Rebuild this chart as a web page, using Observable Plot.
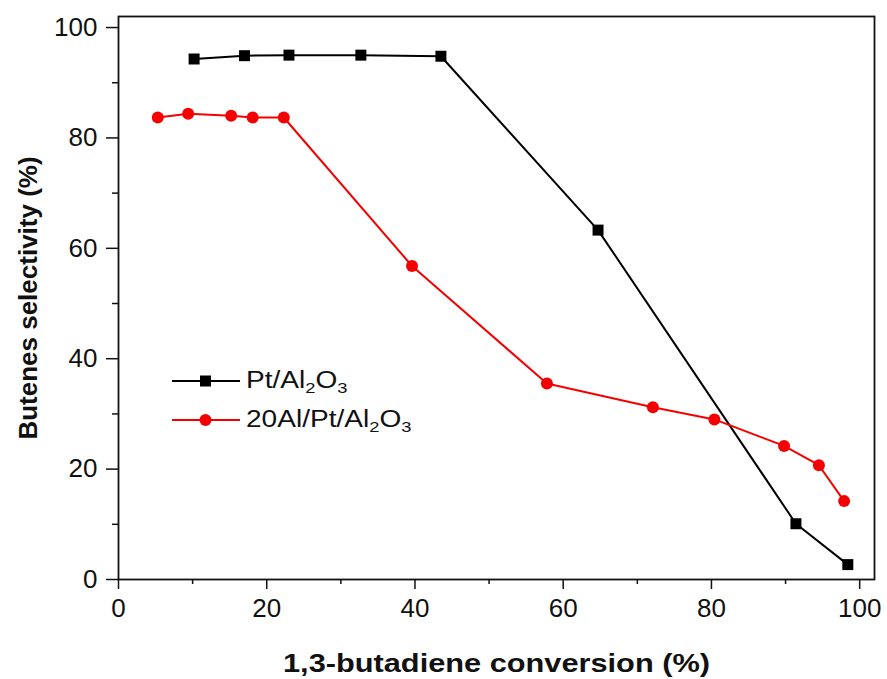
<!DOCTYPE html>
<html>
<head>
<meta charset="utf-8">
<script src="https://cdn.jsdelivr.net/npm/d3@7"></script>
<script src="https://cdn.jsdelivr.net/npm/@observablehq/plot@0.6"></script>
<style>
  html, body { margin: 0; padding: 0; background: #fff; }
  #wrap { position: relative; width: 887px; height: 679px; font-family: "Liberation Sans", Arial, sans-serif; }
  #legend { position: absolute; left: 172px; top: 361px; font-size: 23px; color: #111; }
  .row { display: flex; align-items: center; height: 39px; }
  .row svg { margin-right: 6px; }
  .lbl { display: inline-block; transform: scaleX(1.22); transform-origin: left center; white-space: nowrap; }
  sub { font-size: 15px; vertical-align: -5px; line-height: 0; }
</style>
</head>
<body>
<div id="wrap"></div>
<script>
// Pt/Al2O3 series
const ptX = [10.2, 17.0, 23.0, 32.7, 43.5, 64.7, 91.4, 98.4];
const ptY = [94.3, 94.9, 95.0, 95.0, 94.8, 63.3, 10.1, 2.7];
// 20Al/Pt/Al2O3 series
const alX = [5.3, 9.4, 15.2, 18.1, 22.3, 39.6, 57.8, 72.1, 80.4, 89.8, 94.5, 97.9];
const alY = [83.7, 84.4, 84.0, 83.7, 83.7, 56.8, 35.5, 31.2, 29.0, 24.2, 20.7, 14.2];
const majorTicks = [0, 20, 40, 60, 80, 100];
const minorTicks = [10, 30, 50, 70, 90];
const xLabel = "1,3-butadiene conversion (%)";
const yLabel = "Butenes selectivity (%)";

const pt = ptX.map((x, i) => ({x, y: ptY[i]}));
const al = alX.map((x, i) => ({x, y: alY[i]}));
const RED = "#f50000";

const chart = Plot.plot({
  width: 887,
  height: 679,
  marginLeft: 118,
  marginRight: 13,
  marginTop: 16,
  marginBottom: 100,
  style: {fontFamily: "'Liberation Sans', Arial, sans-serif", color: "#111", background: "#fff"},
  x: {domain: [0, 102]},
  y: {domain: [0, 102]},
  marks: [
    Plot.frame({stroke: "#111", strokeWidth: 1.8}),
    Plot.axisX({ticks: majorTicks, tickSize: 10, tickPadding: 9, fontSize: 26, tickFormat: d => d, label: null, strokeWidth: 1.5}),
    Plot.axisX({ticks: minorTicks, tickSize: 5, tickFormat: () => "", label: null, strokeWidth: 1.5}),
    Plot.axisY({ticks: majorTicks, tickSize: 12, tickPadding: 9, fontSize: 26, tickFormat: d => d, label: null, strokeWidth: 1.5}),
    Plot.axisY({ticks: minorTicks, tickSize: 6, tickFormat: () => "", label: null, strokeWidth: 1.5}),
    Plot.axisX({ticks: [], label: xLabel, labelAnchor: "center", labelArrow: "none", labelOffset: 92, fontSize: 26, fontWeight: "bold"}),
    Plot.axisY({ticks: [], label: yLabel, labelAnchor: "center", labelArrow: "none", labelOffset: 100, fontSize: 26, fontWeight: "bold"}),
    Plot.line(pt, {x: "x", y: "y", stroke: "#000", strokeWidth: 2}),
    Plot.dot(pt, {x: "x", y: "y", symbol: "square", r: 6.2, fill: "#000", stroke: "none"}),
    Plot.line(al, {x: "x", y: "y", stroke: RED, strokeWidth: 2}),
    Plot.dot(al, {x: "x", y: "y", symbol: "circle", r: 6, fill: RED, stroke: "none"})
  ]
});
const wrap = document.getElementById("wrap");
wrap.appendChild(chart);

// the reference's x title is set wider than the font's natural width
chart.querySelectorAll('[aria-label="x-axis label"] text').forEach(t => {
  t.setAttribute("textLength", 427);
  t.setAttribute("lengthAdjust", "spacingAndGlyphs");
});

const legend = document.createElement("div");
legend.id = "legend";
legend.innerHTML = `
  <div class="row"><svg width="68" height="14"><line x1="0" y1="7" x2="68" y2="7" stroke="#000" stroke-width="2"/><rect x="28" y="1.5" width="11" height="11" fill="#000"/></svg><span class="lbl">Pt/Al<sub>2</sub>O<sub>3</sub></span></div>
  <div class="row"><svg width="68" height="14"><line x1="0" y1="7" x2="68" y2="7" stroke="${RED}" stroke-width="2"/><circle cx="33.5" cy="7" r="6" fill="${RED}"/></svg><span class="lbl">20Al/Pt/Al<sub>2</sub>O<sub>3</sub></span></div>`;
wrap.appendChild(legend);
</script>
</body>
</html>
